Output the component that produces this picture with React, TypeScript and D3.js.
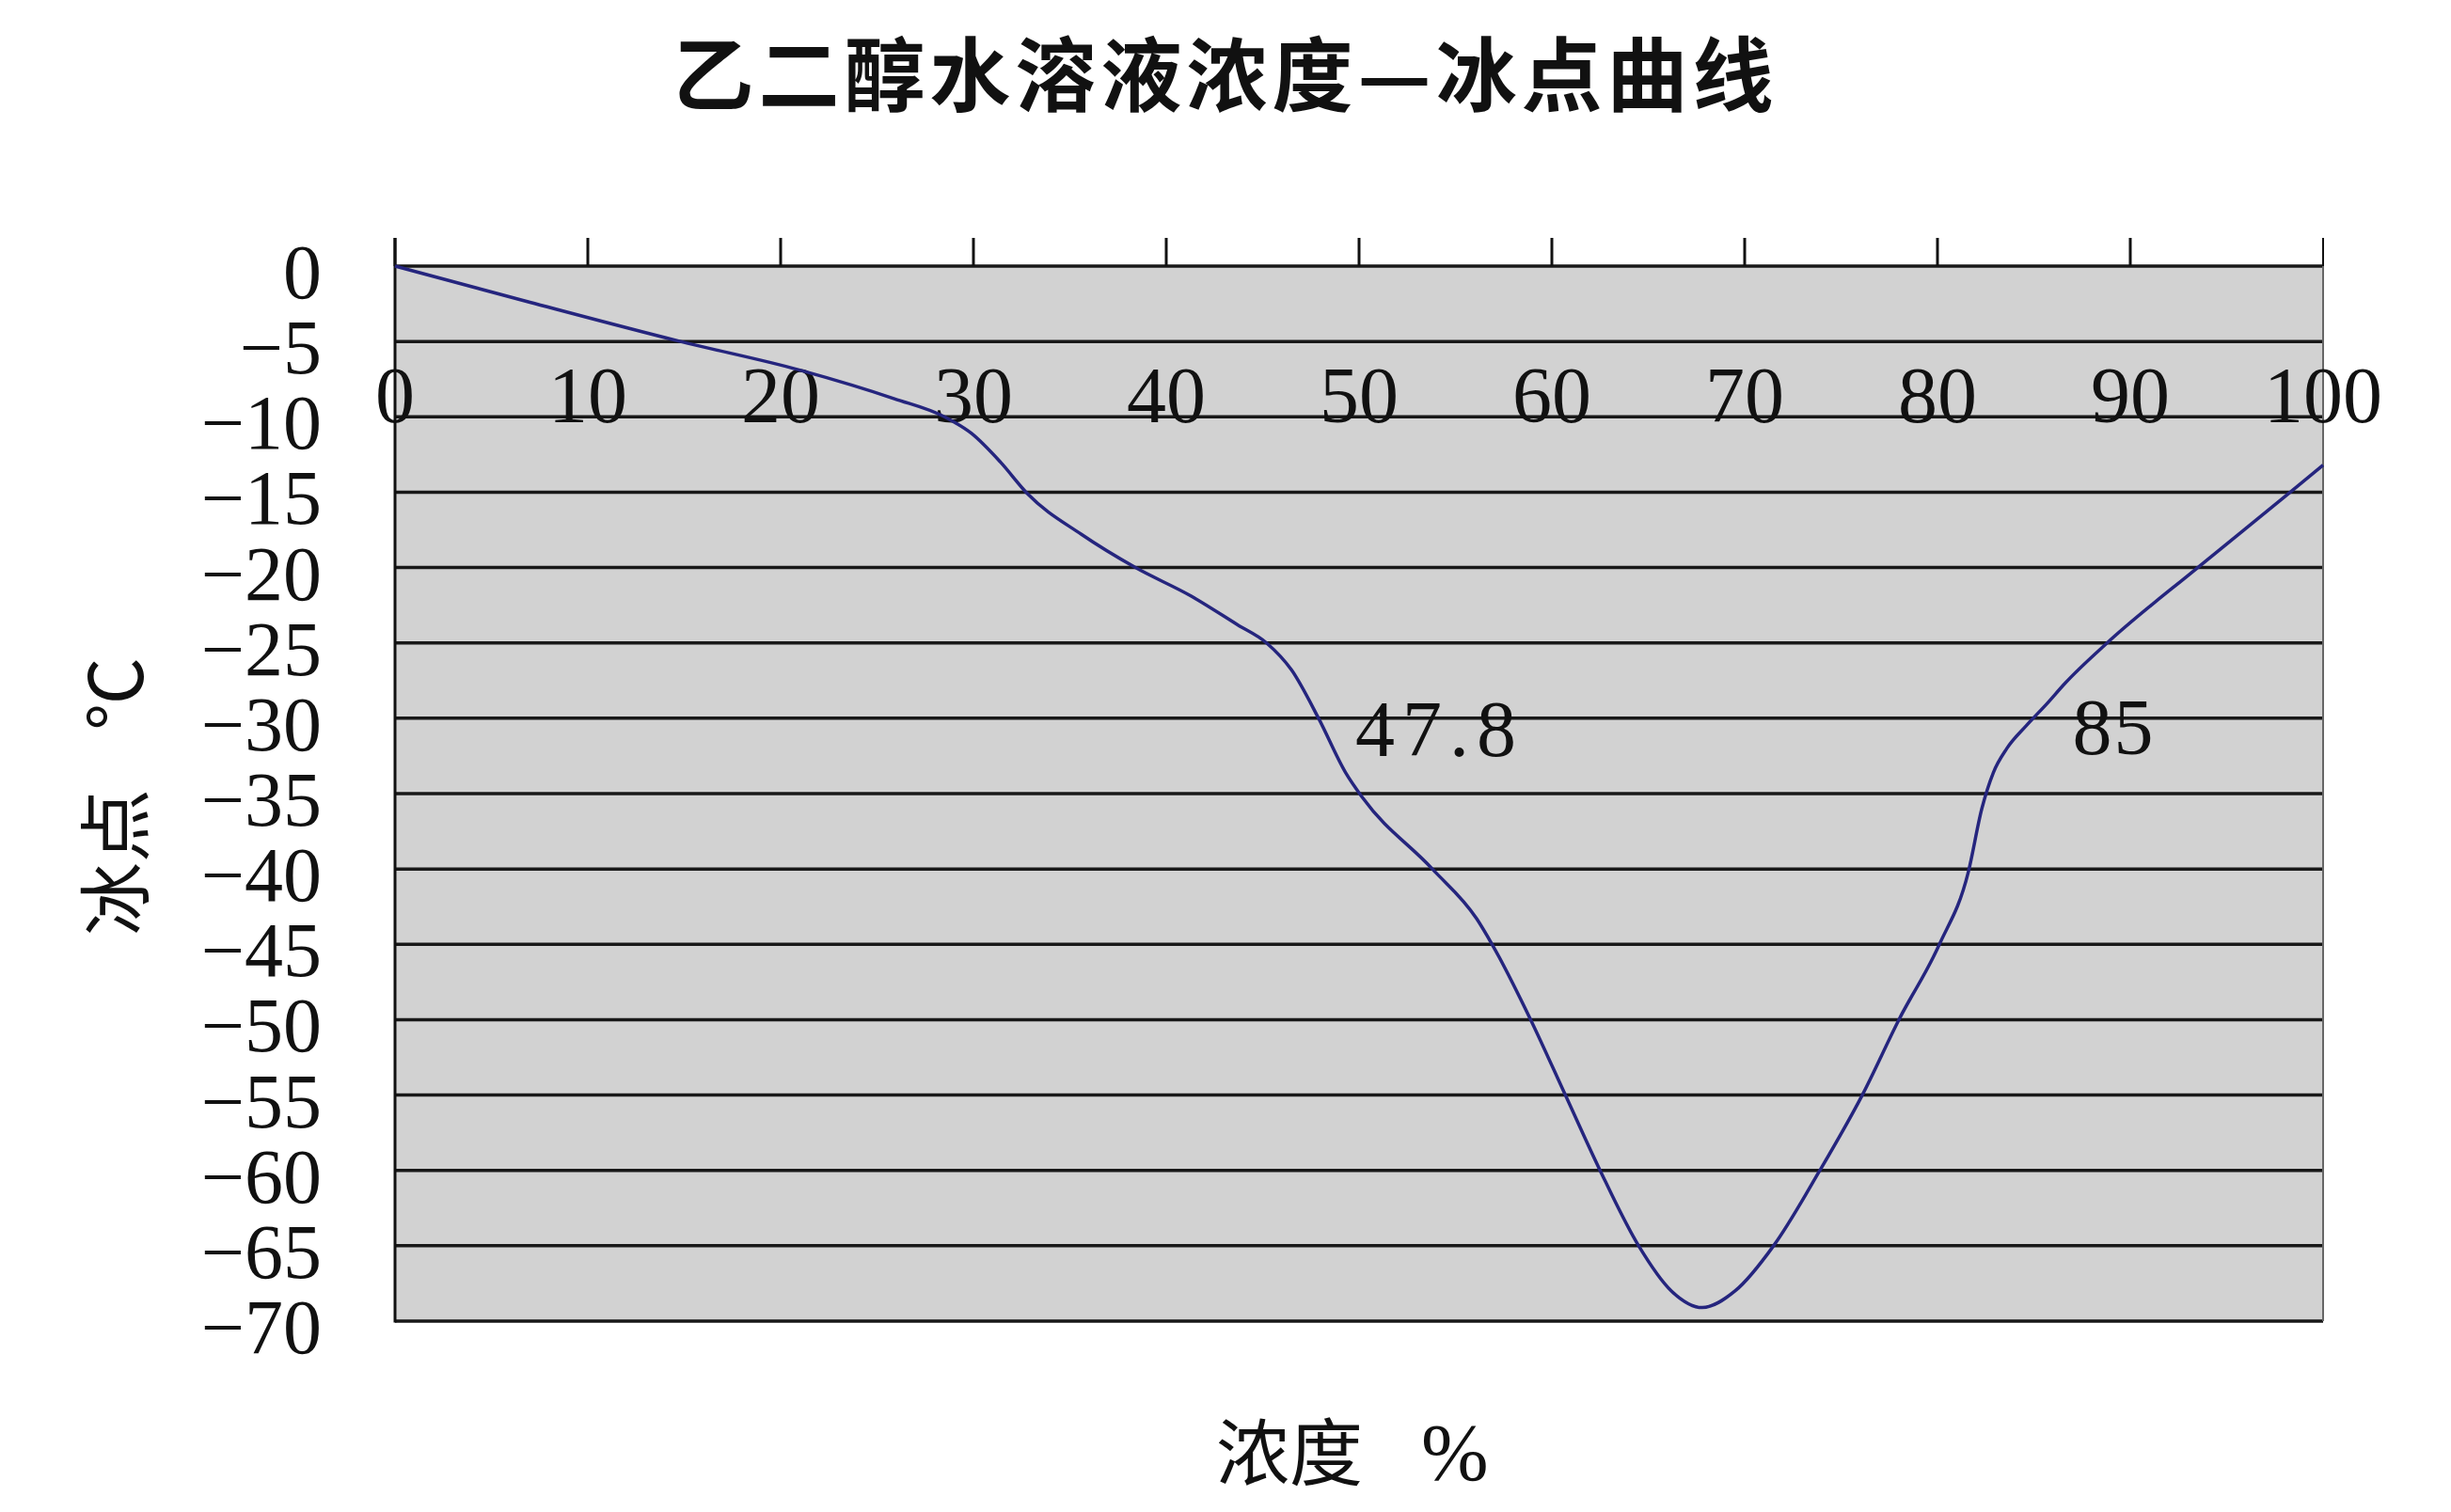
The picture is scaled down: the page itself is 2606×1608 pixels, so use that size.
import { useEffect, useRef } from 'react'
import * as d3 from 'd3'

// concentration (%) vs freezing point (°C)
const concentration = [0, 7, 14.8, 21, 25.9, 28.5, 29.9, 31.4, 32.8, 35.6, 38.4, 41.3, 43.7, 45.2, 46.5, 47.9, 49.3, 50.2, 53.8, 56.1, 56.9, 58.9, 60.7, 62.5, 64.5, 66.2, 67.8, 69.5, 71.5, 73.9, 76.1, 78.0, 80.1, 81.6, 82.3, 82.9, 83.6, 84.6, 85.7, 86.6, 88.8, 93.5, 98.3, 100]
const freezingPoint = [0, -2.4, -5, -6.9, -8.8, -10, -11.1, -13, -15.1, -17.8, -20, -21.9, -23.8, -25, -26.8, -30, -33.6, -35.3, -40, -43.3, -45, -50, -55, -60, -65, -68, -69.1, -68, -65, -60, -55, -50, -45, -40.2, -36, -33.6, -32, -30.5, -29, -27.7, -25, -20, -15, -13.2]

const xTicks = [0, 10, 20, 30, 40, 50, 60, 70, 80, 90, 100]
const yTicks = [0, -5, -10, -15, -20, -25, -30, -35, -40, -45, -50, -55, -60, -65, -70]

const noteText = ['47.8', '85']
const noteConc = [49.8, 87]
const noteTemp = [-30.7, -30.6]

const TITLE = '乙二醇水溶液浓度—冰点曲线'

export default function App() {
  const ref = useRef<SVGSVGElement>(null)
  const W = 2606
  const H = 1608

  useEffect(() => {
    if (!ref.current) return
    const svg = d3.select(ref.current)
    svg.selectAll('*').remove()

    const serif = '"Liberation Serif", "Times New Roman", serif'
    const cjk = '"Noto Sans CJK SC", sans-serif'

    const left = 420, right = 2470, top = 283, bottom = 1405
    const x = d3.scaleLinear().domain([0, 100]).range([left, right])
    const y = d3.scaleLinear().domain([0, -70]).range([top, bottom])

    svg.append('rect').attr('width', W).attr('height', H).attr('fill', '#ffffff')

    // plot area
    svg.append('rect')
      .attr('x', left).attr('y', top)
      .attr('width', right - left).attr('height', bottom - top)
      .attr('fill', '#d2d2d2')

    // horizontal grid lines
    svg.append('g').selectAll('line')
      .data(yTicks)
      .join('line')
      .attr('x1', left).attr('x2', right)
      .attr('y1', d => y(d)).attr('y2', d => y(d))
      .attr('stroke', '#181818')
      .attr('stroke-width', 3.5)

    // right edge
    svg.append('line')
      .attr('x1', right).attr('x2', right)
      .attr('y1', top - 30).attr('y2', bottom)
      .attr('stroke', '#666').attr('stroke-width', 2)

    // left axis
    svg.append('line')
      .attr('x1', left).attr('x2', left)
      .attr('y1', top - 30).attr('y2', bottom + 1.5)
      .attr('stroke', '#111').attr('stroke-width', 3)

    // top tick marks
    svg.append('g').selectAll('line')
      .data(xTicks)
      .join('line')
      .attr('x1', d => x(d)).attr('x2', d => x(d))
      .attr('y1', top - 30).attr('y2', top)
      .attr('stroke', '#111')
      .attr('stroke-width', d => (d === 100 ? 2 : 3))

    // x tick labels (drawn inside the plot, as in the reference)
    svg.append('g').selectAll('text')
      .data(xTicks)
      .join('text')
      .attr('x', d => x(d))
      .attr('y', 449)
      .attr('text-anchor', 'middle')
      .attr('font-family', serif)
      .attr('font-size', 84)
      .attr('fill', '#111')
      .text(d => String(d))

    // y tick labels
    svg.append('g').selectAll('text')
      .data(yTicks)
      .join('text')
      .attr('x', 342)
      .attr('y', d => y(d) + 34)
      .attr('text-anchor', 'end')
      .attr('font-family', serif)
      .attr('font-size', 82)
      .attr('fill', '#111')
      .text(d => (d < 0 ? '\u2212' + Math.abs(d) : String(d)))

    // curve
    const pts = concentration.map((c, i) => [c, freezingPoint[i]] as [number, number])
    const line = d3.line<[number, number]>()
      .x(d => x(d[0]))
      .y(d => y(d[1]))
      .curve(d3.curveMonotoneX)
    svg.append('path')
      .attr('d', line(pts) as string)
      .attr('fill', 'none')
      .attr('stroke', '#25257e')
      .attr('stroke-width', 3.5)
      .attr('stroke-linejoin', 'round')

    // notes
    noteText.forEach((t, i) => {
      svg.append('text')
        .attr('x', x(noteConc[i]))
        .attr('y', y(noteTemp[i]) + 29)
        .attr('font-family', serif)
        .attr('font-size', 84)
        .attr('letter-spacing', t.length > 2 ? 8 : 2)
        .attr('fill', '#111')
        .text(t)
    })

    // title
    svg.append('text')
      .attr('x', 1303).attr('y', 74)
      .attr('text-anchor', 'middle')
      .attr('dominant-baseline', 'central')
      .attr('font-family', cjk)
      .attr('font-weight', 700)
      .attr('font-size', 86)
      .attr('letter-spacing', 5)
      .attr('fill', '#111')
      .text(TITLE)

    // y axis title
    const yt = svg.append('text')
      .attr('transform', 'translate(152,995) rotate(-90)')
      .attr('font-family', cjk)
      .attr('font-size', 78)
      .attr('fill', '#111')
    yt.append('tspan').text('冰点')
    yt.append('tspan').attr('dx', 62).text('℃')

    // x axis title
    const xt = svg.append('text')
      .attr('x', 1293).attr('y', 1574)
      .attr('font-family', cjk)
      .attr('font-size', 78)
      .attr('fill', '#111')
    xt.append('tspan').text('浓度')
    xt.append('tspan').attr('dx', 62).attr('font-family', serif).attr('font-size', 86).text('%')
  }, [])

  return <svg ref={ref} width={W} height={H} style={{ position: 'absolute', left: 0, top: 0, display: 'block' }} />
}
